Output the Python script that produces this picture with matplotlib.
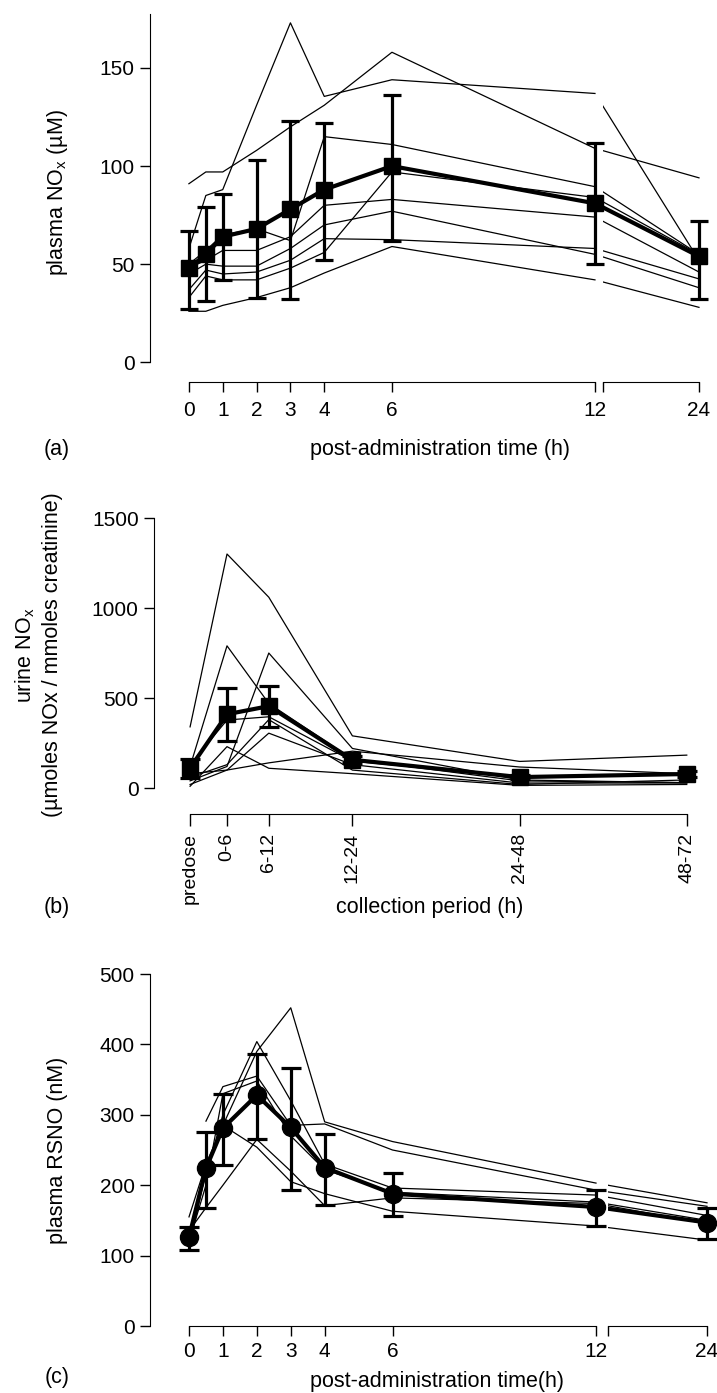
import numpy as np
import matplotlib.pyplot as plt

# fonts: Arial-like
plt.rcParams['font.family'] = ['Liberation Sans', 'DejaVu Sans']
plt.rcParams['mathtext.fontset'] = 'custom'
plt.rcParams['mathtext.rm'] = 'Liberation Sans'
plt.rcParams['font.size'] = 15

# (a) plasma NOx (uM), one row per subject
time_a = [0, 0.5, 1, 2, 3, 4, 6, 12, 24]
plasma_nox = [
    [91, 97, 97, 108, 120, 131, 158, 109, 94],
    [58, 85, 88, 131, 173, 135.5, 144, 137, 52],
    [50, 57, 65, 68, 62, 115, 111, 89.5, 55],
    [33, 44, 42, 42, 48, 56, 97, 84, 55],
    [48, 52, 57, 57, 64, 80, 83, 74, 46],
    [45, 50, 49, 49, 58, 70, 77, 55, 38],
    [37, 47, 45, 46, 52, 63, 62.5, 58, 42.5],
    [26, 26, 29, 33, 38, 45.5, 59, 42, 28],
]
plasma_nox_mean = [48, 55, 64, 68, 78, 88, 100, 81, 54]
plasma_nox_low = [27, 31, 42, 33, 32, 52, 62, 50, 32]
plasma_nox_high = [67, 79, 86, 103, 123, 122, 136, 112, 72]

# (b) urine NOx per collection period
periods = ['predose', '0-6', '6-12', '12-24', '24-48', '48-72']
period_end = [0.7, 6, 12, 24, 48, 72]
urine_nox = [
    [340, 1300, 1060, 290, 148, 183],
    [120, 790, 470, 160, 40, 30],
    [40, 120, 750, 220, 45, 30],
    [10, 230, 110, 80, 15, 20],
    [80, 100, 305, 130, 28, 28],
    [20, 100, 140, 205, 117, 80],
    [130, 378, 396, 150, 60, 75],
    [60, 130, 380, 100, 20, 45],
]
urine_nox_mean = [111, 410, 455, 157, 61, 78]
urine_nox_low = [55, 259, 339, 137, 51, 63]
urine_nox_high = [163, 555, 568, 177, 71, 93]

# (c) plasma RSNO (nM)
time_c = [0, 0.5, 1, 2, 3, 4, 6, 12, 24]
plasma_rsno = [
    [130, 215, 300, 404, 320, 230, 196, 186, 157],
    [155, 230, 285, 390, 452, 290, 262, 203, 175],
    [np.nan, 291, 340, 355, 285, 287, 250, 193, 170],
    [120, 200, 330, 348, 270, 222, 190, 176, 150],
    [135, 168, 200, 265, 220, 171, 182, 174, 145],
    [110, 220, 285, 254, 205, 188, 163, 142, 122],
]
plasma_rsno_mean = [126, 224, 281, 328, 282, 225, 188, 169, 147]
plasma_rsno_low = [108, 168, 228, 266, 193, 172, 156, 142, 124]
plasma_rsno_high = [141, 275, 330, 387, 367, 273, 218, 193, 167]

W, H = 717, 1393
fig = plt.figure(figsize=(W / 100, H / 100), dpi=100)


def px_axes(x0, y0, x1, y1):
    # axes placed by pixel corners, origin top-left
    return fig.add_axes([x0 / W, 1 - y1 / H, (x1 - x0) / W, (y1 - y0) / H])


def px_text(x, y, s, size=15.5, **kw):
    fig.text(x / W, 1 - y / H, s, ha='center', va='center', fontsize=size, **kw)


def clean(ax, left=True):
    ax.spines['top'].set_visible(False)
    ax.spines['right'].set_visible(False)
    ax.spines['left'].set_visible(left)
    ax.tick_params(direction='out', length=7, width=1, labelsize=15)
    ax.tick_params(axis='y', pad=4)
    if not left:
        ax.tick_params(axis='y', left=False, labelleft=False)


def mean_bars(ax, t, mean, low, high, marker, ms, cap):
    t = np.asarray(t, float)
    mean = np.asarray(mean, float)
    err = [mean - np.asarray(low, float), np.asarray(high, float) - mean]
    eb = ax.errorbar(t, mean, yerr=err, fmt=marker, ms=ms, color='k',
                     elinewidth=2.3, capsize=cap, capthick=2.3, zorder=4)
    eb[0].set_clip_on(False)
    for a in eb[1] + eb[2]:
        a.set_clip_on(False)


def time_panel(y_top, y_bot, split, ylim, t, subjects, mean, low, high,
               marker, ms, cap, yticks, xpad):
    # broken x axis: 0-12 h on the left, 12-24 h squeezed on the right
    (lx0, lx1, lxlim), (rx0, rx1, rxlim) = split
    t = np.asarray(t, float)
    mean_a = np.asarray(mean, float)

    axl = px_axes(lx0, y_top, lx1, y_bot)
    for s in subjects:
        axl.plot(t[:-1], np.asarray(s, float)[:-1], color='k', lw=0.9)
    axl.plot(t[:-1], mean_a[:-1], color='k', lw=3)
    mean_bars(axl, t[:-1], mean[:-1], low[:-1], high[:-1], marker, ms, cap)
    axl.set_xlim(*lxlim)
    axl.set_ylim(*ylim)
    clean(axl)
    axl.spines['left'].set_bounds(0, ylim[1])
    axl.spines['bottom'].set_bounds(0, 12)
    axl.set_xticks([0, 1, 2, 3, 4, 6, 12])
    axl.set_yticks(yticks)
    axl.tick_params(axis='x', pad=xpad)

    axr = px_axes(rx0, y_top, rx1, y_bot)
    for s in subjects:
        axr.plot(t[-2:], np.asarray(s, float)[-2:], color='k', lw=0.9)
    axr.plot(t[-2:], mean_a[-2:], color='k', lw=3)
    mean_bars(axr, t[-1:], mean[-1:], low[-1:], high[-1:], marker, ms, cap)
    axr.set_xlim(*rxlim)
    axr.set_ylim(*ylim)
    clean(axr, left=False)
    axr.spines['bottom'].set_bounds(rxlim[0], 24)
    axr.set_xticks([rxlim[0], 24])
    axr.set_xticklabels(['', '24'])
    axr.tick_params(axis='x', pad=xpad)
    axr.patch.set_alpha(0)
    return axl, axr


# ---- (a) plasma NOx
time_panel(14, 382, ((150, 597, (-1.15, 12.06)), (603, 715, (12.92, 25.85))),
           (-10.05, 177.5), time_a, plasma_nox, plasma_nox_mean,
           plasma_nox_low, plasma_nox_high, 's', 11, 6.5, [0, 50, 100, 150], 7)
px_text(57, 192, r'plasma NO$_\mathrm{x}$ (µM)', rotation=90)
px_text(440, 449, 'post-administration time (h)')
px_text(57, 449, '(a)')

# ---- (b) urine NOx
axb = px_axes(154, 518, 700, 814)
for s in urine_nox:
    axb.plot(period_end, s, color='k', lw=0.9)
axb.plot(period_end, urine_nox_mean, color='k', lw=3)
mean_bars(axb, period_end, urine_nox_mean, urine_nox_low, urine_nox_high, 's', 12, 7)
axb.set_xlim(-4.48, 73.9)
axb.set_ylim(-144, 1500)
clean(axb)
axb.spines['left'].set_bounds(0, 1500)
axb.spines['bottom'].set_bounds(period_end[0], period_end[-1])
axb.set_yticks([0, 500, 1000, 1500])
axb.set_xticks(period_end)
axb.set_xticklabels(periods, rotation=90)
axb.tick_params(axis='x', length=8.5, pad=5, labelsize=14)
px_text(25, 655, r'urine NO$_\mathrm{x}$', rotation=90)
px_text(53, 655, '(µmoles NOx / mmoles creatinine)', rotation=90)
px_text(430, 908, 'collection period (h)')
px_text(57, 908, '(b)')

# ---- (c) plasma RSNO
time_panel(974, 1326, ((150, 600, (-1.15, 12.118)), (608, 717, (13.3, 25.08))),
           (0, 500), time_c, plasma_rsno, plasma_rsno_mean,
           plasma_rsno_low, plasma_rsno_high, 'o', 13, 7.5,
           [0, 100, 200, 300, 400, 500], 4.5)
px_text(57, 1150, 'plasma RSNO (nM)', rotation=90)
px_text(437, 1381, 'post-administration time(h)')
px_text(57, 1378, '(c)')

fig.savefig('out.png', dpi=100)
